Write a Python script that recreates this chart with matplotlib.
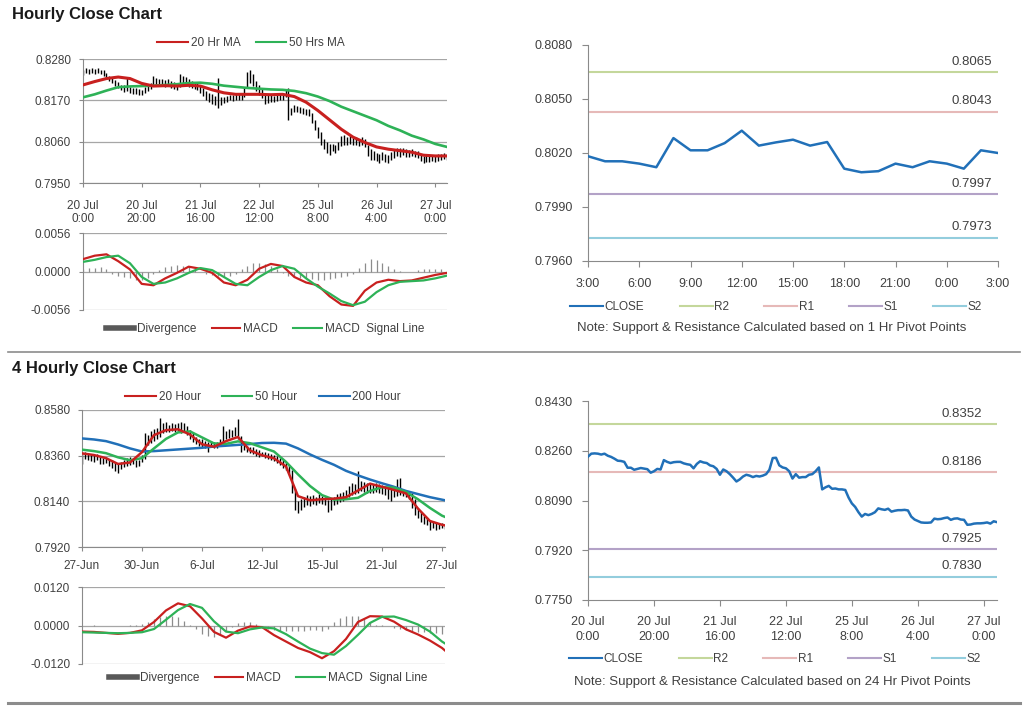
import numpy as np
import matplotlib
matplotlib.use("Agg")
import matplotlib.pyplot as plt
from matplotlib.lines import Line2D

plt.rcParams['font.family'] = ['Liberation Sans', 'DejaVu Sans']

#------------------------------------------------------------------------------------
# Hourly data (values in 1e-4 units for the bars)
#------------------------------------------------------------------------------------
h_labels = ["20 Jul\n0:00", "20 Jul\n20:00", "21 Jul\n16:00", "22 Jul\n12:00",
            "25 Jul\n8:00", "26 Jul\n4:00", "27 Jul\n0:00"]

h_lo = [8238, 8242, 8240, 8244, 8241, 8243, 8240, 8236, 8228, 8222,
        8215, 8208, 8202, 8198, 8192, 8194, 8190, 8186, 8188, 8185,
        8184, 8190, 8196, 8200, 8210, 8212, 8208, 8210, 8205, 8208,
        8202, 8200, 8198, 8205, 8208, 8210, 8206, 8204, 8200, 8198,
        8190, 8182, 8172, 8166, 8160, 8158, 8150, 8158, 8162, 8166,
        8170, 8168, 8170, 8172, 8170, 8180, 8205, 8215, 8208, 8195,
        8185, 8175, 8160, 8162, 8166, 8165, 8168, 8170, 8172, 8178,
        8118, 8130, 8138, 8140, 8136, 8134, 8132, 8128, 8110, 8090,
        8070, 8050, 8040, 8030, 8025, 8034, 8030, 8038, 8048, 8052,
        8050, 8054, 8050, 8052, 8048, 8050, 8046, 8022, 8010, 8012,
        8008, 8004, 8010, 8006, 8002, 8010, 8016, 8022, 8020, 8024,
        8020, 8018, 8022, 8020, 8016, 8008, 8004, 8006, 8005, 8008,
        8006, 8008, 8010, 8014, 8010]
h_hi = [8252, 8256, 8254, 8257, 8253, 8255, 8252, 8250, 8242, 8236,
        8230, 8224, 8218, 8212, 8210, 8230, 8206, 8202, 8204, 8200,
        8198, 8206, 8214, 8216, 8236, 8230, 8226, 8228, 8224, 8226,
        8222, 8218, 8214, 8240, 8236, 8232, 8226, 8222, 8220, 8218,
        8212, 8204, 8196, 8190, 8186, 8182, 8230, 8178, 8180, 8182,
        8185, 8184, 8186, 8188, 8188, 8205, 8245, 8252, 8240, 8222,
        8210, 8200, 8190, 8184, 8184, 8182, 8186, 8188, 8190, 8200,
        8202, 8150, 8158, 8155, 8152, 8150, 8148, 8148, 8135, 8118,
        8100, 8085, 8068, 8060, 8055, 8055, 8052, 8060, 8075, 8078,
        8072, 8076, 8070, 8072, 8068, 8072, 8066, 8050, 8040, 8036,
        8030, 8028, 8032, 8026, 8025, 8032, 8038, 8044, 8042, 8044,
        8040, 8038, 8040, 8036, 8034, 8026, 8022, 8024, 8022, 8024,
        8022, 8026, 8026, 8030, 8028]
h_close = [8240, 8250, 8251, 8250, 8247, 8250, 8243, 8239, 8233, 8226,
           8225, 8222, 8202, 8202, 8195, 8198, 8201, 8199, 8197, 8185,
           8190, 8198, 8196, 8228, 8222, 8218, 8221, 8222, 8222, 8217,
           8214, 8212, 8200, 8215, 8224, 8220, 8218, 8210, 8207, 8198,
           8178, 8196, 8190, 8180, 8168, 8155, 8162, 8172, 8178, 8175,
           8170, 8174, 8172, 8175, 8180, 8195, 8235, 8236, 8210, 8203,
           8200, 8190, 8165, 8180, 8168, 8170, 8170, 8178, 8180, 8190,
           8203, 8128, 8135, 8140, 8130, 8131, 8128, 8128, 8126, 8100,
           8080, 8068, 8050, 8035, 8044, 8040, 8044, 8050, 8063, 8060,
           8058, 8062, 8052, 8055, 8057, 8057, 8058, 8056, 8035, 8025,
           8020, 8015, 8014, 8014, 8015, 8028, 8026, 8027, 8030, 8032,
           8024, 8028, 8029, 8025, 8024, 8007, 8008, 8011, 8012, 8012,
           8013, 8015, 8011, 8019, 8016]

# moving averages / MACD sampled every 4 bars
h_ma20 = [0.8211, 0.8220, 0.8228, 0.8232, 0.8228, 0.8215, 0.8208, 0.8209,
          0.8208, 0.8210, 0.8208, 0.8198, 0.8190, 0.8186, 0.8186, 0.8186,
          0.8185, 0.8186, 0.8180, 0.8165, 0.8143, 0.8118, 0.8093, 0.8072,
          0.8058, 0.8046, 0.8040, 0.8036, 0.8032, 0.8024, 0.8022, 0.8022]
h_ma50 = [0.8178, 0.8186, 0.8196, 0.8205, 0.8207, 0.8208, 0.8209, 0.8211,
          0.8213, 0.8216, 0.8217, 0.8214, 0.8209, 0.8206, 0.8203, 0.8201,
          0.8199, 0.8198, 0.8195, 0.8189, 0.8180, 0.8168, 0.8153, 0.8141,
          0.8129, 0.8117, 0.8102, 0.8090, 0.8076, 0.8066, 0.8054, 0.8046]
h_macd = [0.0018, 0.0023, 0.0025, 0.0015, 0.0003, -0.0018, -0.0020, -0.0010,
          -0.0002, 0.0007, 0.0004, -0.0002, -0.0016, -0.0020, -0.0012, 0.0004,
          0.0011, 0.0008, -0.0008, -0.0016, -0.0020, -0.0036, -0.0048, -0.0050,
          -0.0028, -0.0016, -0.0012, -0.0014, -0.0013, -0.0009, -0.0005, -0.0002]
h_sig = [0.0014, 0.0017, 0.0021, 0.0023, 0.0012, -0.0008, -0.0018, -0.0016,
         -0.0010, -0.0002, 0.0005, 0.0002, -0.0008, -0.0018, -0.0020, -0.0008,
         0.0002, 0.0008, 0.0004, -0.0010, -0.0022, -0.0032, -0.0043, -0.0049,
         -0.0044, -0.0030, -0.0020, -0.0015, -0.0014, -0.0013, -0.0010, -0.0006]
# divergence every 2 bars (1e-4 units)
h_div = [4, 5, 5, 6, 3, -3, -6, -8, -10, -12,
         -13, -9, -4, 2, 6, 8, 9, 8, 6, 3,
         -1, -3, -5, -7, -8, -6, -3, 3, 8, 12,
         13, 11, 8, 3, -2, -6, -8, -9, -10, -11,
         -12, -12, -11, -9, -8, -6, -3, 5, 12, 18,
         17, 13, 8, 4, 1, 0, -1, 2, 3, 4,
         4, 3]

# 1 hour close with pivots
p1_labels = ["3:00", "6:00", "9:00", "12:00", "15:00", "18:00", "21:00", "0:00", "3:00"]
p1_close = [0.80182, 0.80154, 0.80154, 0.80141, 0.80121, 0.80283, 0.80215, 0.80215,
            0.80255, 0.80324, 0.80241, 0.80259, 0.80274, 0.80241, 0.80261, 0.80113,
            0.80093, 0.80099, 0.80141, 0.80121, 0.80154, 0.80141, 0.80113, 0.80215, 0.80200]
p1_levels = {"R2": 0.8065, "R1": 0.8043, "S1": 0.7997, "S2": 0.7973}
p24_levels = {"R2": 0.8352, "R1": 0.8186, "S1": 0.7925, "S2": 0.7830}

#------------------------------------------------------------------------------------
# 4 hourly data
#------------------------------------------------------------------------------------
f_labels = ["27-Jun", "30-Jun", "6-Jul", "12-Jul", "15-Jul", "21-Jul", "27-Jul"]
f_lo = [8320, 8345, 8340, 8335, 8330, 8340, 8322, 8318, 8325, 8310,
        8300, 8285, 8276, 8295, 8305, 8310, 8315, 8320, 8305, 8310,
        8330, 8345, 8410, 8420, 8430, 8440, 8450, 8470, 8475, 8472,
        8478, 8475, 8480, 8470, 8475, 8460, 8440, 8425, 8415, 8405,
        8400, 8395, 8378, 8400, 8395, 8398, 8405, 8420, 8440, 8445,
        8450, 8455, 8440, 8380, 8385, 8380, 8375, 8370, 8360, 8355,
        8358, 8350, 8345, 8340, 8335, 8325, 8315, 8300, 8290, 8270,
        8180, 8100, 8082, 8100, 8115, 8120, 8118, 8125, 8120, 8130,
        8125, 8120, 8090, 8100, 8120, 8125, 8135, 8140, 8150, 8160,
        8170, 8175, 8180, 8190, 8185, 8180, 8182, 8178, 8185, 8180,
        8175, 8170, 8150, 8140, 8160, 8165, 8170, 8165, 8160, 8150,
        8110, 8075, 8060, 8040, 8030, 8025, 8000, 8010, 8000, 8005,
        8010, 8008]
f_hi = [8375, 8378, 8372, 8370, 8365, 8368, 8355, 8350, 8352, 8345,
        8338, 8330, 8320, 8328, 8340, 8350, 8355, 8345, 8338, 8340,
        8365, 8470, 8460, 8480, 8490, 8492, 8540, 8515, 8520, 8510,
        8515, 8512, 8518, 8520, 8515, 8505, 8485, 8470, 8450, 8440,
        8442, 8430, 8425, 8430, 8425, 8428, 8440, 8505, 8480, 8490,
        8485, 8500, 8535, 8455, 8410, 8405, 8400, 8400, 8392, 8385,
        8380, 8378, 8372, 8368, 8365, 8360, 8350, 8340, 8330, 8315,
        8290, 8200, 8140, 8150, 8160, 8170, 8165, 8170, 8160, 8175,
        8165, 8160, 8145, 8150, 8160, 8175, 8180, 8185, 8195, 8215,
        8230, 8225, 8285, 8240, 8235, 8230, 8228, 8225, 8230, 8222,
        8220, 8215, 8205, 8200, 8210, 8250, 8252, 8200, 8195, 8190,
        8180, 8150, 8110, 8090, 8070, 8060, 8050, 8045, 8040, 8038,
        8035, 8030]
f_ma20 = [0.8371, 0.8363, 0.8348, 0.8320, 0.8327, 0.8377, 0.8459, 0.8483,
          0.8487, 0.8462, 0.8415, 0.8403, 0.8430, 0.8450, 0.8385, 0.8362,
          0.8347, 0.8308, 0.8165, 0.8145, 0.8150, 0.8153, 0.8160, 0.8192,
          0.8225, 0.8210, 0.8195, 0.8178, 0.8105, 0.8045, 0.8027, 0.8024]
f_ma50 = [0.8389, 0.8382, 0.8372, 0.8352, 0.8338, 0.8348, 0.8395, 0.8441,
          0.8472, 0.8477, 0.8448, 0.8419, 0.8417, 0.8429, 0.8420, 0.8400,
          0.8380, 0.8330, 0.8270, 0.8214, 0.8170, 0.8148, 0.8150, 0.8157,
          0.8190, 0.8208, 0.8206, 0.8185, 0.8150, 0.8108, 0.8071, 0.8065]
f_ma200 = [0.8443, 0.8438, 0.8430, 0.8414, 0.8395, 0.8380, 0.8382, 0.8386,
           0.8390, 0.8394, 0.8398, 0.8404, 0.8408, 0.8412, 0.8416, 0.8421,
           0.8422, 0.8418, 0.8395, 0.8366, 0.8340, 0.8316, 0.8287, 0.8265,
           0.8245, 0.8227, 0.8210, 0.8190, 0.8175, 0.8160, 0.8148, 0.8145]
f_macd = [-0.0019, -0.0020, -0.0023, -0.0026, -0.0023, -0.0015, 0.0011, 0.0047,
          0.0069, 0.0060, 0.0022, -0.0020, -0.0038, -0.0016, -0.0003, -0.0005,
          -0.0030, -0.0050, -0.0070, -0.0083, -0.0102, -0.0080, -0.0042, 0.0011,
          0.0029, 0.0028, 0.0012, -0.0012, -0.0028, -0.0047, -0.0070, -0.0078]
f_sig = [-0.0021, -0.0022, -0.0023, -0.0024, -0.0023, -0.0021, -0.0011, 0.0018,
         0.0048, 0.0067, 0.0055, 0.0013, -0.0019, -0.0024, -0.0012, -0.0006,
         -0.0009, -0.0027, -0.0050, -0.0072, -0.0086, -0.0091, -0.0064, -0.0029,
         0.0008, 0.0027, 0.0028, 0.0017, 0.0003, -0.0019, -0.0050, -0.0056]
f_div = [-2, -1, 1, -1, -2, -1, -2, -1, 1, 2,
         5, 12, 20, 26, 30, 31, 28, 15, 2, -12,
         -25, -33, -36, -30, -18, -5, 8, 11, 10, 4,
         -3, -10, -15, -17, -16, -17, -18, -16, -15, -14,
         -16, -10, 12, 24, 30, 31, 29, 24, 10, 3,
         1, -3, -8, -12, -15, -17, -19, -20, -22, -24,
         -25]

#------------------------------------------------------------------------------------
# Styling
#------------------------------------------------------------------------------------
RED = '#c8201f'
GREEN = '#2eb257'
BLUE = '#2170b8'
DIV = '#8c8c8c'
TXT = '#404040'
AXC = '#8a8a8a'
PIV = {"R2": '#c4d79b', "R1": '#e6b9b8', "S1": '#b3a2c7', "S2": '#93cddd'}
FS = 8.5

W, H = 1024, 706
fig = plt.figure(figsize=(W / 100, H / 100), dpi=100)


def px_axes(x0, y0, x1, y1):
    return fig.add_axes([x0 / W, 1 - y1 / H, (x1 - x0) / W, (y1 - y0) / H])


def base_style(ax, grid=True, fs=FS, xpad=3.5, ypad=5.5):
    for s in ['top', 'right']:
        ax.spines[s].set_visible(False)
    for s in ['left', 'bottom']:
        ax.spines[s].set_color(AXC)
    ax.tick_params(labelsize=fs, colors=AXC, labelcolor=TXT, length=3, width=0.8)
    ax.tick_params(axis='x', pad=xpad)
    ax.tick_params(axis='y', pad=ypad)
    if grid:
        ax.yaxis.grid(True, color='#a6a6a6', lw=0.9)
        ax.set_axisbelow(True)


def fig_legend(handles, labels, cx, cy, **kw):
    opts = dict(ncol=len(handles), frameon=False, fontsize=FS,
                handletextpad=0.25, borderaxespad=0)
    opts.update(kw)
    leg = fig.legend(handles, labels, loc='center', bbox_to_anchor=(cx / W, 1 - cy / H), **opts)
    for t in leg.get_texts():
        t.set_color(TXT)
    return leg


def price_panel(ax, lo, hi, mas, labels, yticks, xpad):
    n = len(lo)
    x = np.arange(n)
    ax.vlines(x, np.array(lo) / 1e4, np.array(hi) / 1e4, color='black', lw=1.0, zorder=2)
    for vals, col, lw in mas:
        xs = np.minimum(np.arange(len(vals)) * 4, n - 1)
        ax.plot(xs, vals, color=col, lw=lw, zorder=3)
    ax.set_xlim(0, n - 1)
    ax.set_ylim(yticks[0], yticks[-1])
    ax.set_yticks(yticks)
    ax.set_yticklabels([f"{v:.4f}" for v in yticks])
    ax.set_xticks(np.arange(len(labels)) * 20)
    ax.set_xticklabels(labels, linespacing=1.2)
    base_style(ax, xpad=xpad)


def macd_panel(ax, n, macd, sig, div, lim):
    xs = np.minimum(np.arange(len(macd)) * 4, n - 1)
    xd = np.arange(len(div)) * 2
    ax.vlines(xd, 0, np.array(div) / 1e4, color=DIV, lw=0.9, zorder=2)
    ax.plot(xs, macd, color=RED, lw=1.6, zorder=3)
    ax.plot(xs, sig, color=GREEN, lw=1.6, zorder=3)
    ax.set_xlim(0, n - 1)
    ax.set_ylim(-lim, lim)
    ax.set_yticks([-lim, 0, lim])
    ax.set_yticklabels([f"{v:.4f}" for v in [-lim, 0, lim]])
    ax.set_xticks([])
    base_style(ax)
    ax.spines['bottom'].set_visible(False)


def pivot_panel(ax, close, levels, labels, step, yticks, dx, xpad, lsp):
    n = len(close)
    x = np.arange(n)
    for k in ["R2", "R1", "S1", "S2"]:
        ax.axhline(levels[k], color=PIV[k], lw=1.5, zorder=1)
        ax.annotate(f"{levels[k]:.4f}", xy=(n - 1, levels[k]), xytext=(dx, 3),
                    textcoords='offset points', ha='right', va='bottom',
                    fontsize=9.5, color=TXT)
    ax.plot(x, close, color=BLUE, lw=1.8, zorder=3)
    ax.set_xlim(0, n - 1)
    ax.set_ylim(yticks[0], yticks[-1])
    ax.set_yticks(yticks)
    ax.set_yticklabels([f"{v:.4f}" for v in yticks])
    ax.set_xticks(np.arange(len(labels)) * step)
    ax.set_xticklabels(labels, linespacing=lsp)
    base_style(ax, grid=False, fs=9, xpad=xpad, ypad=7)
    ax.tick_params(length=4)


#------------------------------------------------------------------------------------
# Hourly section
#------------------------------------------------------------------------------------
fig.text(12 / W, 1 - 15 / H, "Hourly Close Chart", fontsize=12, fontweight='bold',
         va='center', ha='left', color='#1a1a1a')

ax1 = px_axes(83, 59, 447, 183)
price_panel(ax1, h_lo, h_hi, [(h_ma50, GREEN, 1.9), (h_ma20, RED, 2.2)],
            h_labels, [0.7950, 0.8060, 0.8170, 0.8280], 9)
fig_legend([Line2D([], [], color=RED, lw=1.5), Line2D([], [], color=GREEN, lw=1.5)],
           ["20 Hr MA", "50 Hrs MA"], 251, 43, handlelength=2.6, columnspacing=1.3)

ax2 = px_axes(83, 233, 447, 310)
macd_panel(ax2, len(h_lo), h_macd, h_sig, h_div, 0.0056)
fig_legend([Line2D([], [], color='#595959', lw=4), Line2D([], [], color=RED, lw=1.5),
            Line2D([], [], color=GREEN, lw=1.5)],
           ["Divergence", "MACD", "MACD  Signal Line"], 265, 329,
           handlelength=2.4, columnspacing=1.3)

ax3 = px_axes(588, 45, 998, 261)
pivot_panel(ax3, p1_close, p1_levels, p1_labels, 3,
            [0.7960, 0.7990, 0.8020, 0.8050, 0.8080], -4, 8, 1.2)
fig_legend([Line2D([], [], color=BLUE, lw=1.5)] +
           [Line2D([], [], color=PIV[k], lw=1.5) for k in ["R2", "R1", "S1", "S2"]],
           ["CLOSE", "R2", "R1", "S1", "S2"], 776, 307,
           handlelength=2.8, columnspacing=3.0, handletextpad=0.1)
fig.text(772 / W, 1 - 328 / H, "Note: Support & Resistance Calculated based on 1 Hr Pivot Points",
         fontsize=9.5, ha='center', va='center', color=TXT)

fig.add_artist(Line2D([8 / W, 1020 / W], [1 - 352 / H] * 2, color='#8c8c8c', lw=1.2))

#------------------------------------------------------------------------------------
# 4 hourly section
#------------------------------------------------------------------------------------
fig.text(12 / W, 1 - 369 / H, "4 Hourly Close Chart", fontsize=12, fontweight='bold',
         va='center', ha='left', color='#1a1a1a')

ax4 = px_axes(82, 410, 445, 547)
price_panel(ax4, f_lo, f_hi, [(f_ma200, BLUE, 1.8), (f_ma50, GREEN, 1.8), (f_ma20, RED, 1.8)],
            f_labels, [0.7920, 0.8140, 0.8360, 0.8580], 6.5)
fig_legend([Line2D([], [], color=RED, lw=1.5), Line2D([], [], color=GREEN, lw=1.5),
            Line2D([], [], color=BLUE, lw=1.5)],
           ["20 Hour", "50 Hour", "200 Hour"], 263, 397,
           handlelength=2.6, columnspacing=1.8)

ax5 = px_axes(82, 587, 445, 664)
macd_panel(ax5, len(f_lo), f_macd, f_sig, f_div, 0.0120)
fig_legend([Line2D([], [], color='#595959', lw=4), Line2D([], [], color=RED, lw=1.5),
            Line2D([], [], color=GREEN, lw=1.5)],
           ["Divergence", "MACD", "MACD  Signal Line"], 268, 678,
           handlelength=2.4, columnspacing=1.3)

ax6 = px_axes(588, 401, 997, 600)
pivot_panel(ax6, np.array(h_close) / 1e4, p24_levels, h_labels, 20,
            [0.7750, 0.7920, 0.8090, 0.8260, 0.8430], -11, 7.5, 1.3)
fig_legend([Line2D([], [], color=BLUE, lw=1.5)] +
           [Line2D([], [], color=PIV[k], lw=1.5) for k in ["R2", "R1", "S1", "S2"]],
           ["CLOSE", "R2", "R1", "S1", "S2"], 775, 659,
           handlelength=2.8, columnspacing=3.0, handletextpad=0.1)
fig.text(772 / W, 1 - 682 / H, "Note: Support & Resistance Calculated based on 24 Hr Pivot Points",
         fontsize=9.5, ha='center', va='center', color=TXT)

fig.add_artist(Line2D([8 / W, 1020 / W], [1 - 703 / H] * 2, color='#8c8c8c', lw=2.2))

fig.savefig("out.png", dpi=100, facecolor='white')
